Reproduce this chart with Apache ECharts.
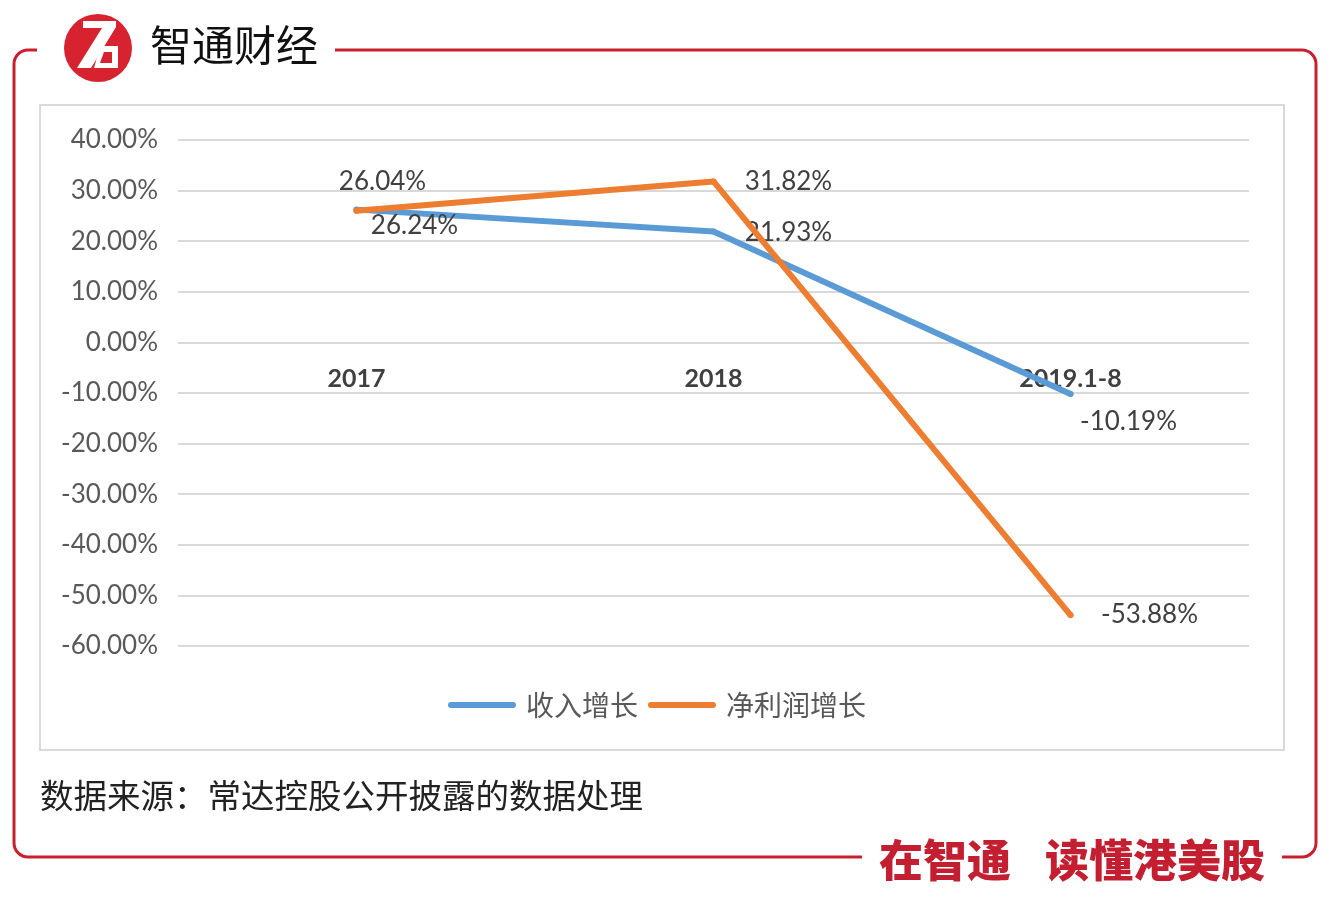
<!DOCTYPE html>
<html>
<head>
<meta charset="utf-8">
<script src="https://cdn.jsdelivr.net/npm/echarts@6/dist/echarts.min.js"></script>
<style>
html,body{margin:0;padding:0;background:#fff;}
#main{width:1339px;height:899px;}
</style>
</head>
<body>
<div id="main"></div>
<script>
// ---- data ----
const categories = ['2017', '2018', '2019.1-8'];
const revenueGrowth = [26.24, 21.93, -10.19];   // 收入增长
const profitGrowth = [26.04, 31.82, -53.88];    // 净利润增长
const seriesNames = ['收入增长', '净利润增长'];
const yTicks = { min: -60, max: 40, interval: 10 };
const sourceText = '数据来源：常达控股公开披露的数据处理';

// ---- styling (label offsets per point, pixels) ----
const revenueLabelOffsets = [[58, 16], [75, 1], [58, 28]];
const profitLabelOffsets = [[26, -29], [75, 0], [79, 0]];

const RED = '#c8202f';
const BLUE = '#5b9bd5';
const ORANGE = '#ed7d31';
const LATIN = 'Lato, "Noto Sans CJK SC", sans-serif';
const CJK = '"Noto Sans CJK SC", sans-serif';

function buildData(values, offsets) {
  return values.map((v, i) => ({
    value: v,
    label: { offset: offsets[i] }
  }));
}

const chart = echarts.init(document.getElementById('main'));

const frameStyle = { stroke: RED, lineWidth: 3, fill: null };
const L = 14, R = 1316, T = 50, B = 857, r = 14;

const graphics = [
  // inner chart box
  { type: 'rect', shape: { x: 40, y: 105, width: 1244, height: 645 }, style: { fill: null, stroke: '#d9d9d9', lineWidth: 2 }, z: -1 },
  // frame lines
  { type: 'line', shape: { x1: L + r, y1: T, x2: 37, y2: T }, style: frameStyle },
  { type: 'line', shape: { x1: 335, y1: T, x2: R - r, y2: T }, style: frameStyle },
  { type: 'line', shape: { x1: R, y1: T + r, x2: R, y2: B - r }, style: frameStyle },
  { type: 'line', shape: { x1: L, y1: T + r, x2: L, y2: B - r }, style: frameStyle },
  { type: 'line', shape: { x1: L + r, y1: B, x2: 862, y2: B }, style: frameStyle },
  { type: 'line', shape: { x1: 1282, y1: B, x2: R - r, y2: B }, style: frameStyle },
  { type: 'arc', shape: { cx: L + r, cy: T + r, r: r, startAngle: Math.PI, endAngle: Math.PI * 1.5 }, style: frameStyle },
  { type: 'arc', shape: { cx: R - r, cy: T + r, r: r, startAngle: Math.PI * 1.5, endAngle: Math.PI * 2 }, style: frameStyle },
  { type: 'arc', shape: { cx: R - r, cy: B - r, r: r, startAngle: 0, endAngle: Math.PI * 0.5 }, style: frameStyle },
  { type: 'arc', shape: { cx: L + r, cy: B - r, r: r, startAngle: Math.PI * 0.5, endAngle: Math.PI }, style: frameStyle },
  // logo
  { type: 'circle', shape: { cx: 98, cy: 48, r: 34 }, style: { fill: '#d7222f' } },
  { type: 'polygon', shape: { points: [[83, 21], [116, 21], [116, 27], [91, 68], [77, 68], [102, 28], [83, 28]] }, style: { fill: '#fff' } },
  { type: 'polygon', shape: { points: [[100, 46], [118, 46], [118, 68], [94, 68]] }, style: { fill: '#fff' } },
  { type: 'polygon', shape: { points: [[104, 52], [112, 52], [112, 63], [100, 63]] }, style: { fill: '#d7222f' } },
  { type: 'text', x: 150, y: 45, style: { text: '智通财经', font: '400 42px ' + CJK, fill: '#111', textVerticalAlign: 'middle' } },
  // slogan
  { type: 'text', x: 879, y: 860, style: { text: '在智通', font: '900 44px ' + CJK, fill: '#c41f30', textVerticalAlign: 'middle' } },
  { type: 'text', x: 1045, y: 860, style: { text: '读懂港美股', font: '900 44px ' + CJK, fill: '#c41f30', textVerticalAlign: 'middle' } },
  // source
  { type: 'text', x: 40, y: 795, style: { text: sourceText, font: '400 33.5px ' + CJK, fill: '#222', textVerticalAlign: 'middle' } }
];

const option = {
  backgroundColor: '#fff',
  animation: false,
  graphic: graphics,
  grid: { left: 178, right: 90, top: 140, bottom: 253, containLabel: false },
  legend: {
    left: 443,
    top: 686,
    itemWidth: 68,
    itemHeight: 6,
    itemGap: 10,
    textStyle: { fontSize: 28, color: '#595959', fontFamily: CJK, padding: [0, 0, 0, 5] },
    data: [
      { name: seriesNames[0], icon: 'path://M3,0 L65,0 A3,3 0 0 1 65,6 L3,6 A3,3 0 0 1 3,0 Z' },
      { name: seriesNames[1], icon: 'path://M3,0 L65,0 A3,3 0 0 1 65,6 L3,6 A3,3 0 0 1 3,0 Z' }
    ]
  },
  xAxis: {
    type: 'category',
    data: categories,
    boundaryGap: true,
    axisLine: { show: false },
    axisTick: { show: false },
    axisLabel: { margin: -280, fontSize: 25, fontWeight: 'bold', color: '#404040', fontFamily: LATIN },
    splitLine: { show: false }
  },
  yAxis: {
    type: 'value',
    min: yTicks.min,
    max: yTicks.max,
    interval: yTicks.interval,
    axisLine: { show: false },
    axisTick: { show: false },
    axisLabel: { margin: 20, fontSize: 26, color: '#595959', fontFamily: LATIN, formatter: v => v.toFixed(2) + '%' },
    splitLine: { lineStyle: { color: '#d9d9d9', width: 2 } }
  },
  series: [
    {
      name: seriesNames[0],
      type: 'line',
      data: buildData(revenueGrowth, revenueLabelOffsets),
      symbol: 'circle',
      symbolSize: 6,
      itemStyle: { color: BLUE },
      lineStyle: { color: BLUE, width: 6, cap: 'round', join: 'round' },
      label: { show: true, position: 'inside', fontSize: 26, color: '#404040', fontFamily: LATIN, formatter: p => p.value.toFixed(2) + '%' },
      z: 3
    },
    {
      name: seriesNames[1],
      type: 'line',
      data: buildData(profitGrowth, profitLabelOffsets),
      symbol: 'circle',
      symbolSize: 6,
      itemStyle: { color: ORANGE },
      lineStyle: { color: ORANGE, width: 6, cap: 'round', join: 'round' },
      label: { show: true, position: 'inside', fontSize: 26, color: '#404040', fontFamily: LATIN, formatter: p => p.value.toFixed(2) + '%' },
      z: 4
    }
  ]
};
chart.setOption(option);
</script>
</body>
</html>
